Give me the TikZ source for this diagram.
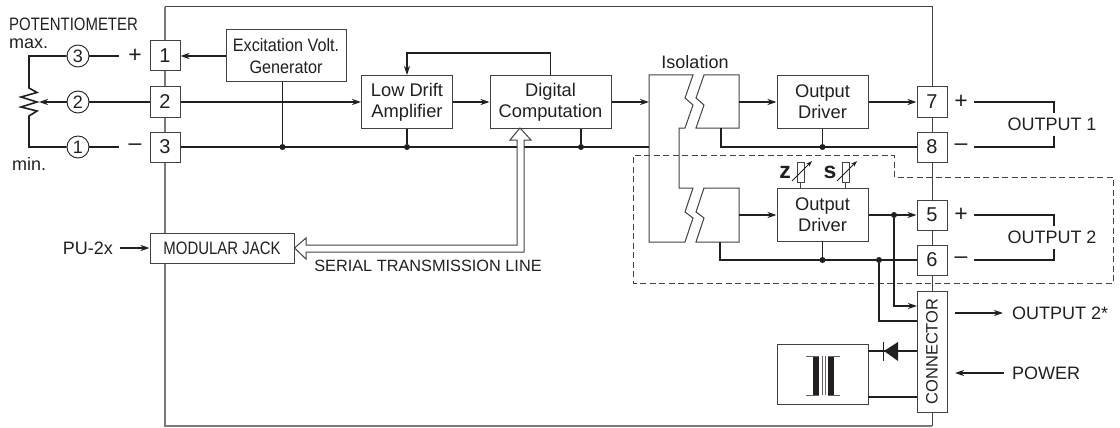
\documentclass[tikz,border=0pt]{standalone}
\usepackage{fontspec}
\setmainfont{Liberation Sans}
\newfontfamily\narrowsans[FakeStretch=0.83]{Liberation Sans}
\newfontfamily\semisans[FakeStretch=0.9]{Liberation Sans}
\usetikzlibrary{calc,arrows.meta,positioning}
\definecolor{ink}{HTML}{231F20}
\definecolor{frameline}{HTML}{7A7A7A}

\begin{document}
\begin{tikzpicture}[
    x=1pt,y=-1pt,
    every node/.style={text=ink},
    blockbox/.style={draw=ink!85,fill=white,line width=1pt,align=center,inner sep=0pt,
                font=\fontsize{18.3}{21}\selectfont},
    term/.style={draw=ink!85,fill=white,line width=1pt,inner sep=0pt,
                minimum width=30pt,minimum height=30pt,font=\fontsize{20}{21}\selectfont},
    pin/.style={circle,draw=ink,fill=white,line width=0.9pt,inner sep=0pt,
                minimum size=22pt,font=\fontsize{18}{21}\selectfont},
    dot/.style={circle,fill=ink,inner sep=0pt,minimum size=6pt},
    lbl/.style={font=\fontsize{18}{21}\selectfont,inner sep=0pt},
    sign/.style={font=\fontsize{23}{23}\selectfont,inner sep=0pt},
    nlbl/.style={font=\fontsize{18}{21}\narrowsans\selectfont,inner sep=0pt},
    wire/.style={draw=ink,line width=1.6pt},
    flow/.style={wire,-{Stealth[length=9pt,width=6pt,inset=3pt]}},
    thin/.style={draw=ink!85,line width=1pt},
    frameedge/.style={draw=frameline,line width=1.2pt},
    dashbox/.style={draw=ink!85,line width=0.9pt,dash pattern=on 6pt off 3.5pt},
]
\useasboundingbox (0,0) rectangle (1120,428);

% Outer housing
\draw[frameedge] (932,426) -- (165,426) -- (165,7);
\draw[thin] (165,7) -- (932,7) -- (932,426);

% Isolation barrier
\draw[thin] (649,75) -- (693,75) -- (685,98) -- (693,105) -- (685,128) -- (679,128)
     -- (679,188) -- (693,188) -- (685,212) -- (693,218) -- (685,242) -- (649,242) -- cycle;
\draw[thin] (704,75) -- (739,75) -- (739,128) -- (696,128) -- (704,105) -- (696,98) -- cycle;
\draw[thin] (704,188) -- (739,188) -- (739,242) -- (696,242) -- (704,218) -- (696,212) -- cycle;

% Option area
\draw[dashbox] (894,177) -- (894,155) -- (633,155) -- (633,283) -- (1113,283) -- (1113,177) -- cycle;

% Terminals
\node[term] (t1) at (165,56)  {1};
\node[term] (t2) at (165,102) {2};
\node[term] (t3) at (165,147) {3};
\node[term] (t7) at (932,102) {7};
\node[term] (t8) at (932,147) {8};
\node[term] (t5) at (932,215) {5};
\node[term] (t6) at (932,260) {6};

% Blocks
\node[blockbox,minimum width=120pt,minimum height=52pt,
      font=\fontsize{18}{22}\semisans\selectfont] (exc) at (286,56) {Excitation Volt.\\Generator};
\node[blockbox,minimum width=91pt,minimum height=53pt]  (amp)  at (407,102)   {Low Drift\\Amplifier};
\node[blockbox,minimum width=121pt,minimum height=53pt] (digi) at (550.5,102) {Digital\\Computation};
\node[blockbox,minimum width=91pt,minimum height=53pt]  (drvA) at (822.5,102) {Output\\Driver};
\node[blockbox,minimum width=91pt,minimum height=53pt]  (drvB) at (822.5,215) {Output\\Driver};
\node[blockbox,minimum width=144pt,minimum height=30pt,
      font=\fontsize{18}{21}\narrowsans\selectfont] (jack) at (222,248) {MODULAR JACK};
\node[blockbox,minimum width=30pt,minimum height=121pt] (conn) at (932,351.5) {};
\node[font=\fontsize{16.5}{20}\selectfont,rotate=90,inner sep=0pt] (connlbl) at (conn.center) {CONNECTOR};
\node[blockbox,minimum width=91pt,minimum height=60pt]  (psu)  at (822.5,374) {};

% Potentiometer side
\node[pin] (p3) at (78,56)  {3};
\node[pin] (p2) at (78,102) {2};
\node[pin] (p1) at (78,147) {1};
\coordinate (plusend) at (119,56);
\coordinate (minusend) at (119,147);
\coordinate (wiper) at (39,102);
\draw[wire] (p3.east) -- (plusend);
\draw[wire] (p1.east) -- (minusend);
\draw[wire,line join=miter] (p3.west) -- (29,56) -- (29,88) -- (37,92.5) -- (21,97) -- (37,102)
     -- (21,107) -- (37,111) -- (29,116) -- (29,147) -- (p1.west);
\draw[wire] (t2.west) -- (p2.east);
\draw[flow] (p2.west) -- (wiper);
\node[sign] (plus1)  at (135,56)  {+};
\node[sign] (minus1) at (135,147) {–};

% Junctions
\node[dot] (j1) at (282.5,147) {};
\node[dot] (j2) at (407,147) {};
\node[dot] (j3) at (581,147) {};
\node[dot] (j4) at (822.5,147) {};
\node[dot] (j5) at (894,215) {};
\node[dot] (j6) at (822.5,260) {};
\node[dot] (j7) at (879,260) {};
\coordinate (isoa) at (649,102);
\coordinate (isob) at (739,102);
\coordinate (isoc) at (739,215);
\coordinate (isog) at (649,147);
\coordinate (isod) at (721,128);
\coordinate (isoe) at (720,242);

% Signal path
\draw[flow] (exc.west) -- (t1.east);
\draw[flow] (t2.east) -- (amp.west);
\draw[flow] (amp.east) -- (digi.west);
\draw[flow] (digi.east) -- (isoa);
\draw[flow] (isob) -- (drvA.west);
\draw[flow] (isoc) -- (drvB.west);
\draw[flow] (drvA.east) -- (t7.west);
\draw[flow] (drvB.east) -- (t5.west);
\draw[flow] (digi.north) -- ++(0,-22) -| (amp.north);

% Common lines
\draw[wire] (t3.east) -- (isog);
\draw[wire] (j1 |- exc.south) -- (j1);
\draw[wire] (amp.south) -- (j2);
\draw[wire] (j3 |- digi.south) -- (j3);
\draw[wire] (isod) |- (t8.west);
\draw[wire] (drvA.south) -- (j4);
\draw[wire] (isoe) |- (t6.west);
\draw[wire] (drvB.south) -- (j6);

% To the connector
\coordinate (cna) at (917,306);
\coordinate (cnb) at (917,321);
\draw[flow] (j5) |- (cna);
\draw[wire] (j7) |- (cnb);

% Serial line
\coordinate (digitip) at (520,128);
\draw[thin,fill=white] (jack.east) -- (306,238) -- (306,245) -- (517,245) -- (517,140) -- (510,140)
     -- (digitip) -- (531,140) -- (524,140) -- (524,252) -- (306,252) -- (306,259) -- cycle;
\node[font=\fontsize{16.3}{20}\selectfont,inner sep=0pt] (serial) at (428,266) {SERIAL TRANSMISSION LINE};
\node[lbl,anchor=east] (pu) at (113,248) {PU-2x};
\draw[flow] ($(pu.east)+(7,0)$) -- (jack.west);

% Power section
\coordinate (dioa) at (917,351);
\coordinate (diob) at (868,351);
\coordinate (psub) at (868,397);
\coordinate (cnc) at (917,397);
\draw[wire] (dioa) -- (diob);
\draw[wire] (psub) -- (cnc);
\fill[ink] (898,342) -- (898,361) -- (884,351) -- cycle;
\draw[draw=ink,line width=1pt] (883,342) -- (883,361);

% Transformer
\fill[ink] (813,356) rectangle (819,395);
\fill[ink] (828,356) rectangle (834,395);
\draw[thin,draw=ink!70] (806,356) -- (819,356) (806,395) -- (819,395);
\draw[thin,draw=ink!70] (828,356) -- (840,356) (828,395) -- (840,395);
\draw[thin,draw=ink!70] (822,356) -- (822,395) (825,356) -- (825,395);

% Trim resistors
\node[draw=ink!85,fill=white,line width=0.9pt,minimum width=7pt,minimum height=20pt,inner sep=0pt] (rz) at (800.5,172) {};
\node[draw=ink!85,fill=white,line width=0.9pt,minimum width=7pt,minimum height=20pt,inner sep=0pt] (rs) at (845.5,172) {};
\draw[thin] (rz.south) -- (rz.south |- drvB.north);
\draw[thin] (rs.south) -- (rs.south |- drvB.north);
\draw[draw=ink,line width=0.9pt,-{Stealth[length=6pt,width=4pt]}] (792,181) -- (812,161);
\draw[draw=ink,line width=0.9pt,-{Stealth[length=6pt,width=4pt]}] (837,181) -- (857,161);
\node[font=\fontsize{23}{23}\bfseries\selectfont,inner sep=0pt] (zlbl) at (785,172) {z};
\node[font=\fontsize{23}{23}\bfseries\selectfont,inner sep=0pt] (slbl) at (830,172) {s};

% Output side
\node[sign] (plus2)  at (961,102) {+};
\node[sign] (minus2) at (961,147) {–};
\node[sign] (plus3)  at (961,215) {+};
\node[sign] (minus3) at (961,260) {–};
\node[lbl] (out1) at (1052,124) {OUTPUT 1};
\node[lbl] (out2) at (1052,237) {OUTPUT 2};
\coordinate (o1a) at (974,102);
\coordinate (o1b) at (974,147);
\coordinate (o2a) at (974,215);
\coordinate (o2b) at (974,260);
\draw[wire] (o1a) -- (1054,102) -- (1054,113);
\draw[wire] (o1b) -- (1054,147) -- (1054,136);
\draw[wire] (o2a) -- (1054,215) -- (1054,226);
\draw[wire] (o2b) -- (1054,260) -- (1054,249);
\node[lbl,anchor=west] (out3) at (1012,313) {OUTPUT 2*};
\node[lbl,anchor=west] (power) at (1012,373) {POWER};
\coordinate (o3a) at (955,313);
\coordinate (pwa) at (955,373);
\draw[flow] (o3a) -- ($(out3.west)+(-9,0)$);
\draw[flow] ($(power.west)+(-8,0)$) -- (pwa);

% Texts on the left
\node[nlbl,anchor=west] (pot) at (9,24) {POTENTIOMETER};
\node[lbl,anchor=west] (maxlbl) at (9,44) {max.};
\node[lbl,anchor=west] (minlbl) at (12,164) {min.};
\node[lbl] (iso) at (695,62) {Isolation};

\end{tikzpicture}
\end{document}
